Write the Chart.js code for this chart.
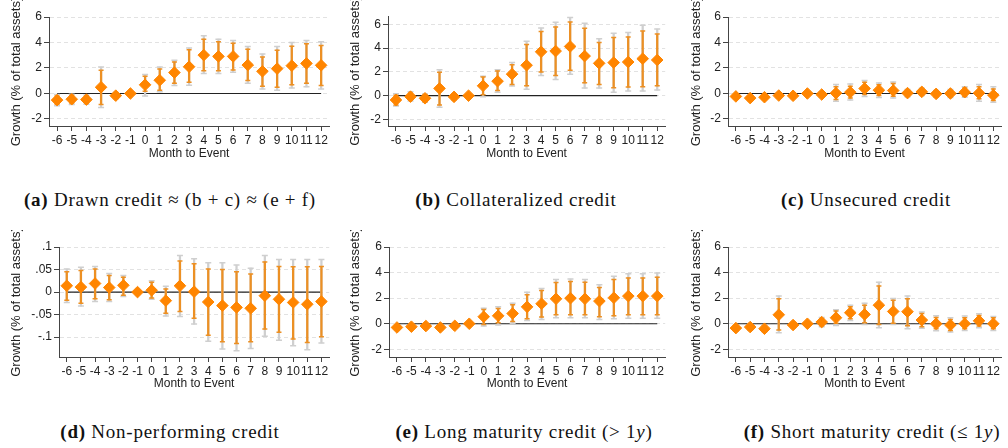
<!DOCTYPE html>
<html>
<head>
<meta charset="utf-8">
<script src="https://cdn.jsdelivr.net/npm/chart.js@4.4.1/dist/chart.umd.min.js"></script>
<style>
  body { margin: 0; background: #fff; }
  #wrap { position: relative; width: 1008px; height: 448px; overflow: hidden; }
  canvas { position: absolute; }
  .cap {
    position: absolute;
    font-family: 'Liberation Serif', 'Times New Roman', serif;
    font-size: 19px;
    letter-spacing: 0.75px;
    color: #111;
    white-space: nowrap;
    transform: translate(-50%, -50%);
  }
</style>
</head>
<body>
<div id="wrap">
  <canvas id="pa" width="336" height="175" style="left:0;top:0"></canvas>
  <canvas id="pb" width="336" height="175" style="left:336px;top:0"></canvas>
  <canvas id="pc" width="336" height="175" style="left:672px;top:0"></canvas>
  <canvas id="pd" width="336" height="175" style="left:0;top:230px"></canvas>
  <canvas id="pe" width="336" height="175" style="left:336px;top:230px"></canvas>
  <canvas id="pf" width="336" height="175" style="left:672px;top:230px"></canvas>

  <div class="cap" style="left:170px;top:200px"><b>(a)</b> Drawn credit ≈ (b + c) ≈ (e + f)</div>
  <div class="cap" style="left:516px;top:200px"><b>(b)</b> Collateralized credit</div>
  <div class="cap" style="left:866px;top:200px"><b>(c)</b> Unsecured credit</div>
  <div class="cap" style="left:170px;top:432px"><b>(d)</b> Non-performing credit</div>
  <div class="cap" style="left:524px;top:432px"><b>(e)</b> Long maturity credit (&gt; 1<i>y</i>)</div>
  <div class="cap" style="left:872px;top:432px"><b>(f)</b> Short maturity credit (≤ 1<i>y</i>)</div>
</div>

<script>
const months = [-6, -5, -4, -3, -2, -1, 0, 1, 2, 3, 4, 5, 6, 7, 8, 9, 10, 11, 12]

// (a) drawn credit
const estA = [-0.52, -0.45, -0.48, 0.49, -0.17, 0, 0.68, 1.04, 1.64, 2.1, 3.01, 2.91, 2.91, 2.23, 1.74, 1.95, 2.18, 2.36, 2.21]
const innerLoA = [-0.85, -0.75, -0.75, -0.86, -0.35, null, 0.18, 0.26, 0.8, 0.88, 1.79, 1.79, 1.84, 1.01, 0.57, 0.49, 0.68, 0.8, 0.62]
const innerHiA = [-0.2, -0.15, -0.2, 1.82, 0.0, null, 1.35, 1.92, 2.47, 3.43, 4.26, 4.05, 3.95, 3.48, 2.86, 3.4, 3.71, 3.9, 3.77]
const outerLoA = [-0.97, -0.87, -0.85, -1.1, -0.42, null, -0.2, 0.13, 0.62, 0.65, 1.56, 1.56, 1.66, 0.8, 0.36, 0.26, 0.44, 0.52, 0.36]
const outerHiA = [-0.08, -0.05, -0.12, 2.08, 0.08, null, 1.48, 2.08, 2.6, 3.56, 4.52, 4.26, 4.16, 3.69, 3.09, 3.69, 4.0, 4.16, 4.05]

// (b) collateralized credit
const estB = [-0.36, -0.08, -0.22, 0.61, -0.1, 0, 0.83, 1.22, 1.81, 2.56, 3.69, 3.75, 4.14, 3.33, 2.72, 2.78, 2.83, 3.11, 3.0]
const innerLoB = [-0.78, -0.35, -0.5, -0.78, -0.3, null, 0.08, 0.44, 0.94, 0.83, 2.0, 1.69, 2.14, 1.08, 0.94, 0.67, 0.72, 0.75, 0.83]
const innerHiB = [0.03, 0.2, 0.06, 1.97, 0.1, null, 1.56, 2.08, 2.61, 4.31, 5.39, 5.78, 6.19, 5.67, 4.47, 4.89, 4.94, 5.44, 5.19]
const outerLoB = [-0.86, -0.44, -0.56, -0.97, -0.36, null, -0.08, 0.28, 0.81, 0.53, 1.69, 1.36, 1.81, 0.64, 0.64, 0.28, 0.39, 0.39, 0.47]
const outerHiB = [0.17, 0.33, 0.14, 2.19, 0.16, null, 1.64, 2.19, 2.78, 4.58, 5.69, 6.17, 6.58, 6.08, 4.78, 5.25, 5.31, 5.92, 5.61]

// (c) unsecured credit
const estC = [-0.23, -0.36, -0.29, -0.16, -0.18, 0, -0.08, 0.03, 0.1, 0.39, 0.26, 0.23, 0.03, 0.13, -0.03, 0, 0.1, 0.03, -0.13]
const innerLoC = [-0.35, -0.48, -0.41, -0.3, -0.32, null, -0.22, -0.47, -0.36, -0.08, -0.16, -0.21, -0.15, -0.05, -0.2, -0.22, -0.21, -0.42, -0.55]
const innerHiC = [-0.11, -0.24, -0.17, -0.02, -0.04, null, 0.06, 0.52, 0.57, 0.88, 0.68, 0.78, 0.21, 0.31, 0.14, 0.22, 0.44, 0.52, 0.36]
const outerLoC = [-0.42, -0.55, -0.48, -0.37, -0.39, null, -0.3, -0.6, -0.52, -0.23, -0.31, -0.36, -0.25, -0.15, -0.3, -0.32, -0.3, -0.6, -0.68]
const outerHiC = [-0.04, -0.17, -0.1, 0.05, 0.03, null, 0.14, 0.7, 0.75, 1.01, 0.83, 0.91, 0.31, 0.41, 0.24, 0.32, 0.52, 0.7, 0.52]

// (d) non-performing credit
const estD = [0.014, 0.011, 0.019, 0.01, 0.015, 0, 0.004, -0.019, 0.014, 0.001, -0.022, -0.03, -0.034, -0.036, -0.008, -0.016, -0.023, -0.027, -0.021]
const innerLoD = [-0.018, -0.025, -0.015, -0.017, -0.007, null, -0.013, -0.047, -0.043, -0.058, -0.096, -0.11, -0.114, -0.11, -0.082, -0.089, -0.104, -0.112, -0.099]
const innerHiD = [0.045, 0.048, 0.051, 0.037, 0.033, null, 0.022, 0.007, 0.069, 0.063, 0.051, 0.05, 0.045, 0.04, 0.067, 0.057, 0.056, 0.056, 0.057]
const outerLoD = [-0.023, -0.031, -0.021, -0.021, -0.01, null, -0.016, -0.053, -0.054, -0.071, -0.109, -0.126, -0.13, -0.125, -0.098, -0.107, -0.119, -0.128, -0.113]
const outerHiD = [0.051, 0.055, 0.057, 0.041, 0.037, null, 0.025, 0.013, 0.081, 0.074, 0.065, 0.065, 0.06, 0.053, 0.081, 0.072, 0.072, 0.072, 0.072]

// (e) long maturity credit
const estE = [-0.29, -0.23, -0.18, -0.29, -0.16, 0, 0.55, 0.62, 0.8, 1.32, 1.56, 1.95, 2.0, 1.95, 1.77, 2.03, 2.16, 2.16, 2.16]
const innerLoE = [-0.42, -0.36, -0.31, -0.42, -0.29, null, -0.05, 0.08, 0.18, 0.39, 0.52, 0.7, 0.7, 0.7, 0.55, 0.62, 0.7, 0.7, 0.7]
const innerHiE = [-0.16, -0.1, -0.05, -0.16, -0.03, null, 1.12, 1.19, 1.48, 2.26, 2.6, 3.22, 3.3, 3.25, 2.83, 3.45, 3.58, 3.58, 3.64]
const outerLoE = [-0.48, -0.42, -0.37, -0.48, -0.35, null, -0.18, -0.1, 0.03, 0.26, 0.34, 0.47, 0.47, 0.47, 0.34, 0.39, 0.42, 0.42, 0.42]
const outerHiE = [-0.1, -0.04, 0.01, -0.1, 0.03, null, 1.22, 1.32, 1.61, 2.47, 2.75, 3.45, 3.5, 3.45, 3.04, 3.71, 3.9, 3.9, 3.97]

// (f) short maturity credit
const estF = [-0.34, -0.26, -0.39, 0.7, -0.1, 0, 0.13, 0.47, 0.86, 0.73, 1.45, 0.96, 0.94, 0.29, 0, -0.1, 0, 0.23, 0]
const innerLoF = [-0.5, -0.42, -0.55, -0.49, -0.26, null, -0.13, 0.03, 0.39, 0.08, -0.05, 0.03, -0.16, -0.23, -0.39, -0.52, -0.39, -0.18, -0.39]
const innerHiF = [-0.18, -0.1, -0.23, 1.95, 0.06, null, 0.39, 0.99, 1.32, 1.45, 2.96, 1.84, 1.95, 0.81, 0.49, 0.34, 0.47, 0.65, 0.47]
const outerLoF = [-0.58, -0.5, -0.63, -0.7, -0.34, null, -0.23, -0.13, 0.26, -0.05, -0.31, -0.05, -0.39, -0.36, -0.55, -0.65, -0.52, -0.31, -0.52]
const outerHiF = [-0.1, -0.02, -0.15, 2.16, 0.14, null, 0.49, 1.09, 1.45, 1.61, 3.25, 1.97, 2.16, 0.91, 0.62, 0.47, 0.6, 0.78, 0.57]

const yTitle = 'Growth (% of total assets)'
const xTitle = 'Month to Event'

const orange = '#ff8500'
const innerCol = '#ec9024'
const outerCol = '#cfcfcf'
const axisCol = '#444'

Chart.defaults.font.family = "'Liberation Sans', Arial, sans-serif"
Chart.defaults.font.size = 12
Chart.defaults.color = '#222'

const pts = vals => months.map((m, i) => ({ x: m, y: vals[i] }))
const bars = (lo, hi) => months.map((m, i) => ({ x: m, y: lo[i] === null ? null : [lo[i], hi[i]] }))
const caps = (lo, hi) => pts(lo).concat(pts(hi))

const drawPanel = (id, est, inLo, inHi, outLo, outHi, o) => {
  new Chart(document.getElementById(id), {
    type: 'scatter',
    data: {
      datasets: [
        { type: 'scatter', data: pts(est), pointStyle: 'rectRot', pointRadius: 5.8, backgroundColor: orange, borderColor: orange, borderWidth: 1, order: 0 },
        { type: 'bar', data: bars(inLo, inHi), backgroundColor: innerCol, barThickness: 1.6, grouped: false, order: 1 },
        { type: 'scatter', data: caps(inLo, inHi), pointStyle: 'line', pointRadius: 2.5, borderColor: innerCol, borderWidth: 1.5, order: 1 },
        { type: 'bar', data: bars(outLo, outHi), backgroundColor: outerCol, barThickness: 1.6, grouped: false, order: 2 },
        { type: 'scatter', data: caps(outLo, outHi), pointStyle: 'line', pointRadius: 3, borderColor: outerCol, borderWidth: 1.5, order: 2 },
        // zero reference line
        { type: 'line', data: [{ x: months[0], y: 0 }, { x: months[months.length - 1], y: 0 }], borderColor: '#222', borderWidth: 1.2, pointRadius: 0, order: 3 },
      ],
    },
    options: {
      responsive: false,
      animation: false,
      events: [],
      layout: { padding: { top: o.padTop, right: o.padR, left: 0, bottom: 0 } },
      plugins: { legend: { display: false }, tooltip: { enabled: false } },
      scales: {
        x: {
          type: 'linear',
          min: -6.55,
          max: 12.55,
          offset: false,
          grid: { display: true, drawOnChartArea: false, drawTicks: true, tickLength: 5, tickColor: axisCol, offset: false },
          border: { display: true, color: axisCol, width: 1 },
          ticks: { stepSize: 1, includeBounds: false, autoSkip: false, maxRotation: 0, minRotation: 0, padding: 2 },
          title: { display: true, text: xTitle, padding: { top: 0, bottom: o.xTitlePad } },
          afterFit: s => {
            s.height = o.xH
            s.paddingLeft = 0
            s.paddingRight = 0
          },
        },
        y: {
          min: o.ymin,
          max: o.ymax,
          grid: { color: '#e2e2e2', lineWidth: 1, tickColor: axisCol, tickLength: 5, drawTicks: true },
          border: { display: true, color: axisCol, width: 1, dash: [4, 3] },
          ticks: {
            stepSize: o.step,
            includeBounds: false,
            padding: 2,
            callback: v => o.fmt ? o.fmt(v) : v,
          },
          title: { display: true, text: yTitle, font: { size: 13 }, padding: { top: o.yTitlePad, bottom: 0 } },
          afterFit: s => {
            s.width = o.yW
            s.paddingTop = 0
            s.paddingBottom = 0
          },
        },
      },
    },
  })
}

// Stata-style decimals: .05, -.1
const stataFmt = v => {
  const r = Math.round(v * 1000) / 1000
  if (r === 0) return '0'
  return String(r).replace('0.', '.')
}

drawPanel('pa', estA, innerLoA, innerHiA, outerLoA, outerHiA, { padTop: 17, padR: 6, yW: 49, ymin: -2.55, ymax: 6, step: 2, xH: 49, xTitlePad: 14, yTitlePad: 9 })
drawPanel('pb', estB, innerLoB, innerHiB, outerLoB, outerHiB, { padTop: 16, padR: 2, yW: 52, ymin: -2.55, ymax: 6.7, step: 2, xH: 49, xTitlePad: 14, yTitlePad: 12 })
drawPanel('pc', estC, innerLoC, innerHiC, outerLoC, outerHiC, { padTop: 17, padR: 0, yW: 56, ymin: -2.55, ymax: 6, step: 2, xH: 49, xTitlePad: 14, yTitlePad: 17 })
drawPanel('pd', estD, innerLoD, innerHiD, outerLoD, outerHiD, { padTop: 17, padR: 6, yW: 59, ymin: -0.144, ymax: 0.1, step: 0.05, fmt: stataFmt, xH: 48, xTitlePad: 14, yTitlePad: 9 })
drawPanel('pe', estE, innerLoE, innerHiE, outerLoE, outerHiE, { padTop: 17, padR: 2, yW: 53, ymin: -2.6, ymax: 6, step: 2, xH: 48, xTitlePad: 14, yTitlePad: 12 })
drawPanel('pf', estF, innerLoF, innerHiF, outerLoF, outerHiF, { padTop: 17, padR: 0, yW: 56, ymin: -2.6, ymax: 6, step: 2, xH: 48, xTitlePad: 14, yTitlePad: 17 })
</script>
</body>
</html>
